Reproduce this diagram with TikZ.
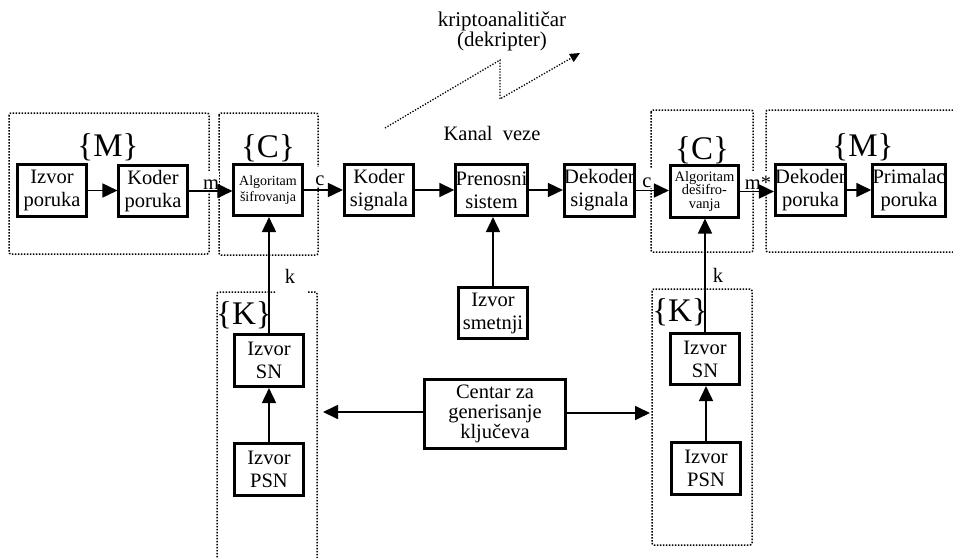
\documentclass[tikz,border=0pt]{standalone}
\usepackage{fontspec}
\setmainfont{Liberation Serif}
\usetikzlibrary{arrows.meta}
\tikzset{
  blk/.style={draw, line width=2.6pt, inner sep=0pt, align=center,
    font=\fontsize{20.5}{23}\selectfont, minimum width=68.5pt, minimum height=51.5pt},
  smallblk/.style={blk, font=\fontsize{14}{16}\selectfont},
  arr/.style={line width=1.7pt, -{Triangle[length=15pt,width=14pt]}},
  dotbox/.style={line width=1.5pt, dash pattern=on 1.5pt off 1.5pt, rounded corners=2pt},
  lbl/.style={fill=white, inner sep=0.5pt, font=\fontsize{20.5}{23}\selectfont,
    text height=18pt, text depth=0pt, anchor=base},
  plainlbl/.style={inner sep=0pt, font=\fontsize{20.5}{23}\selectfont, anchor=base},
  setlbl/.style={inner sep=0pt, font=\fontsize{33}{34}\selectfont}
}
\begin{document}
\begin{tikzpicture}[x=1pt,y=-1pt]
\useasboundingbox (0,0) rectangle (953,557);
% dotted groups
\draw[dotbox] (9,113) rectangle (209,254);
\draw[dotbox] (219,113) rectangle (318,255);
\draw[dotbox] (651,110) rectangle (753,252);
\draw[dotbox] (953,110) -- (766,110) -- (766,252) -- (953,252);
\draw[dotbox] (275,292) -- (217,292) -- (217,560);
\draw[dotbox] (308,292) -- (317,292) -- (317,560);
\draw[dotbox] (652,289) rectangle (752,545);
% set labels
\node[setlbl] (sM1) at (108,147) {\{M\}};
\node[setlbl] (sC1) at (268,148) {\{C\}};
\node[setlbl] (sC2) at (702,150) {\{C\}};
\node[setlbl] (sM2) at (863,147) {\{M\}};
\node[setlbl] (sK1) at (244,315) {\{K\}};
\node[setlbl] (sK2) at (680,312) {\{K\}};
% connector labels
\node[lbl] (lm) at (211,189) {m};
\node[lbl] (lc1) at (320,185) {c};
\node[lbl] (lc2) at (647,187) {c};
\node[lbl] (lms) at (758,189) {m*};
\node[plainlbl] (lk1) at (290,283) {k};
\node[plainlbl] (lk2) at (718,282) {k};
\node[plainlbl] (kanal) at (492,140) {Kanal\ \ veze};
\node[inner sep=0pt, align=center, font=\fontsize{21}{17}\selectfont] (kripto) at (502,31.5) {kriptoanalitičar\\(dekripter)};
% blocks
\node[blk] (izp) at (52,190.5) {Izvor\\poruka};
\node[blk] (kp) at (153,191) {Koder\\poruka};
\node[smallblk] (as) at (268,190) {Algoritam\\šifrovanja};
\node[blk, minimum width=69.5pt] (ks) at (379,190) {Koder\\signala};
\node[blk] (ps) at (491.5,190) {Prenosni\\sistem};
\node[blk, minimum width=70.5pt] (ds) at (599.5,190.5) {Dekoder\\signala};
\node[blk, font=\fontsize{14.5}{13.5}\selectfont] (ad) at (704.5,191.5) {Algoritam\\dešifro-\\vanja};
\node[blk, minimum width=66.5pt] (dp) at (810.5,190) {Dekoder\\poruka};
\node[blk, minimum width=69.5pt] (pp) at (909,190.5) {Primalac\\poruka};
\node[blk, minimum width=69.5pt] (ism) at (493,313) {Izvor\\smetnji};
\node[blk, minimum width=141.5pt, minimum height=69.5pt, font=\fontsize{20.5}{20}\selectfont] (cg) at (495,414) {Centar za\\generisanje\\ključeva};
\node[blk, minimum width=69.5pt, minimum height=52.5pt] (sn1) at (269,360.5) {Izvor\\SN};
\node[blk, minimum width=69.5pt, minimum height=52.5pt] (psn1) at (269,469.5) {Izvor\\PSN};
\node[blk, minimum width=69.5pt, minimum height=51.5pt] (sn2) at (705,359) {Izvor\\SN};
\node[blk, minimum width=69.5pt, minimum height=52.5pt] (psn2) at (706,468.5) {Izvor\\PSN};
% free ends
\coordinate (cl) at (323,412);
\coordinate (cr) at (650,413);
\coordinate (z0) at (385,128);
\coordinate (z1) at (500,60);
\coordinate (z2) at (500,99);
\coordinate (z3) at (580,53);
% connectors
\draw[arr] (izp.east) -- (izp.east -| kp.west);
\draw[arr] (kp.east) -- (kp.east -| as.west);
\draw[arr] (as.east) -- (as.east -| ks.west);
\draw[arr] (ks.east) -- (ks.east -| ps.west);
\draw[arr] (ps.east) -- (ps.east -| ds.west);
\draw[arr] (ds.east) -- (ds.east -| ad.west);
\draw[arr] (ad.east) -- (ad.east -| dp.west);
\draw[arr] (dp.east) -- (dp.east -| pp.west);
\draw[arr] (ism.north) -- (ism.north |- ps.south);
\draw[arr] (sn1.north) -- (sn1.north |- as.south);
\draw[arr] (sn2.north) -- (sn2.north |- ad.south);
\draw[arr] (psn1.north) -- (psn1.north |- sn1.south);
\draw[arr] (psn2.north) -- (psn2.north |- sn2.south);
\draw[arr] (cg.west |- cl) -- (cl);
\draw[arr] (cg.east |- cr) -- (cr);
\draw[line width=1.3pt, dash pattern=on 1.3pt off 1.6pt, -{Triangle[length=10pt,width=9pt]}] (z0) -- (z1) -- (z2) -- (z3);
\end{tikzpicture}
\end{document}
